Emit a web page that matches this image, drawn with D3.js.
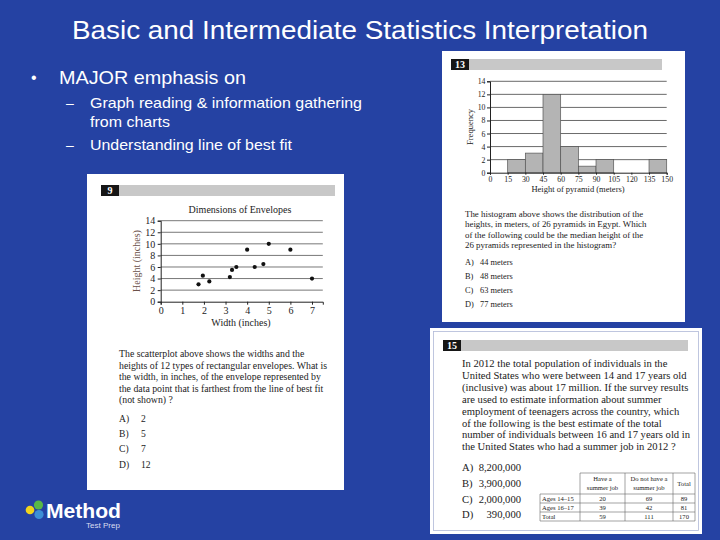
<!DOCTYPE html>
<html><head><meta charset="utf-8">
<script src="https://cdn.jsdelivr.net/npm/d3@7"></script>
<style>body{margin:0;background:#2542a3;} svg{display:block}</style>
</head><body><svg id="c" width="720" height="540"></svg>
<script>
// ---------- data ----------
const slideTitle = "Basic and Intermediate Statistics Interpretation";
const bulletMain = "MAJOR emphasis on";
const subBullets = [["Graph reading & information gathering", "from charts"], ["Understanding line of best fit"]];

// Q9 scatterplot
const scatterWidth  = [1.75, 1.95, 2.25, 3.2, 3.3, 3.5, 4, 4.35, 4.75, 5, 6, 7];
const scatterHeight = [3, 4.5, 3.5, 4.25, 5.5, 6, 9, 6, 6.5, 10, 9, 4];
const scatterXTicks = [0, 1, 2, 3, 4, 5, 6, 7];
const scatterYTicks = [0, 2, 4, 6, 8, 10, 12, 14];
const scatterTitle = "Dimensions of Envelopes";
const scatterXLabel = "Width (inches)";
const scatterYLabel = "Height (inches)";
const q9Text = ["The scatterplot above shows the widths and the",
  "heights of 12 types of rectangular envelopes. What is",
  "the width, in inches, of the envelope represented by",
  "the data point that is farthest from the line of best fit",
  "(not shown) ?"];
const q9Letters = ["A)", "B)", "C)", "D)"];
const q9Answers = ["2", "5", "7", "12"];

// Q13 histogram
const histBinStart = [15, 30, 45, 60, 75, 90, 105, 120, 135];
const histBinEnd   = [30, 45, 60, 75, 90, 105, 120, 135, 150];
const histFreq     = [2, 3, 12, 4, 1, 2, 0, 0, 2];
const histXTicks = [0, 15, 30, 45, 60, 75, 90, 105, 120, 135, 150];
const histYTicks = [0, 2, 4, 6, 8, 10, 12, 14];
const histXLabel = "Height of pyramid (meters)";
const histYLabel = "Frequency";
const q13Text = ["The histogram above shows the distribution of the",
  "heights, in meters, of 26 pyramids in Egypt. Which",
  "of the following could be the median height of the",
  "26 pyramids represented in the histogram?"];
const q13Letters = ["A)", "B)", "C)", "D)"];
const q13Answers = ["44 meters", "48 meters", "63 meters", "77 meters"];

// Q15 table
const q15Text = ["In 2012 the total population of individuals in the",
  "United States who were between 14 and 17 years old",
  "(inclusive) was about 17 million. If the survey results",
  "are used to estimate information about summer",
  "employment of teenagers across the country, which",
  "of the following is the best estimate of the total",
  "number of individuals between 16 and 17 years old in",
  "the United States who had a summer job in 2012 ?"];
const q15Letters = ["A)", "B)", "C)", "D)"];
const q15Answers = ["8,200,000", "3,900,000", "2,000,000", "390,000"];
const tableHeaders = [["Have a", "summer job"], ["Do not have a", "summer job"], ["Total"]];
const tableRowLabels = ["Ages 14–15", "Ages 16–17", "Total"];
const tableHave  = [20, 39, 59];
const tableNot   = [69, 42, 111];
const tableTotal = [89, 81, 170];

// ---------- drawing ----------
const svg = d3.select("#c");
const SERIF = "'Liberation Serif','DejaVu Serif',serif";
const SANS = "'Liberation Sans',Arial,sans-serif";

svg.append("rect").attr("width", 720).attr("height", 540).attr("fill", "#2542a3");

// title
svg.append("text").attr("x", 72).attr("y", 39).attr("fill", "#fff")
  .attr("font-family", SANS).attr("font-size", 26)
  .attr("textLength", 576).attr("lengthAdjust", "spacingAndGlyphs").text(slideTitle);

// bullets
svg.append("text").attr("x", 31).attr("y", 83).attr("fill", "#fff").attr("font-family", SANS).attr("font-size", 16).text("•");
svg.append("text").attr("x", 59).attr("y", 84).attr("fill", "#fff").attr("font-family", SANS).attr("font-size", 19)
  .attr("textLength", 187).attr("lengthAdjust", "spacingAndGlyphs").text(bulletMain);
const subY = [[108, 127], [150]];
const subLen = [[272, 80], [202]];
subBullets.forEach((lines, i) => {
  svg.append("text").attr("x", 66).attr("y", subY[i][0]).attr("fill", "#fff").attr("font-family", SANS).attr("font-size", 14).text("–");
  lines.forEach((t, j) => {
    svg.append("text").attr("x", 90).attr("y", subY[i][j]).attr("fill", "#fff").attr("font-family", SANS)
      .attr("font-size", 14.5).attr("textLength", subLen[i][j]).attr("lengthAdjust", "spacingAndGlyphs").text(t);
  });
});

function header(g, x, y, w, label) {
  g.append("rect").attr("x", x).attr("y", y).attr("width", w).attr("height", 11).attr("fill", "#c8c8c8");
  g.append("rect").attr("x", x).attr("y", y).attr("width", 18).attr("height", 11).attr("fill", "#161616");
  g.append("text").attr("x", x + 9).attr("y", y + 9).attr("text-anchor", "middle").attr("fill", "#fff")
    .attr("font-family", SERIF).attr("font-weight", "bold").attr("font-size", 10).text(label);
}

// ----- Panel 9 -----
const p9 = svg.append("g");
p9.append("rect").attr("x", 87).attr("y", 174).attr("width", 257).attr("height", 316).attr("fill", "#fff");
header(p9, 101, 185, 234, "9");
const sx = d3.scaleLinear().domain([0, 7.5]).range([160.7, 322.8]);
const sy = d3.scaleLinear().domain([0, 14]).range([301.7, 220.7]);
p9.append("g").selectAll("line").data(scatterYTicks.slice(1)).join("line")
  .attr("x1", sx(0)).attr("x2", sx(7.5)).attr("y1", d => sy(d)).attr("y2", d => sy(d))
  .attr("stroke", "#555").attr("stroke-width", 0.8);
const sxa = p9.append("g").attr("transform", `translate(0,${sy(0)})`)
  .call(d3.axisBottom(sx).tickValues(scatterXTicks).tickSize(3).tickPadding(2).tickFormat(d3.format("d")));
const sya = p9.append("g").attr("transform", `translate(${sx(0)},0)`)
  .call(d3.axisLeft(sy).tickValues(scatterYTicks).tickSize(3).tickPadding(2.5).tickFormat(d3.format("d")));
[sxa, sya].forEach(a => {
  a.selectAll("path").attr("stroke", "#222");
  a.selectAll("line").attr("stroke", "#222");
  a.selectAll("text").attr("font-family", SERIF).attr("font-size", 10).attr("fill", "#222");
});
p9.append("g").selectAll("circle").data(scatterWidth).join("circle")
  .attr("cx", d => sx(d)).attr("cy", (d, i) => sy(scatterHeight[i])).attr("r", 2.1).attr("fill", "#111");
p9.append("text").attr("x", 240).attr("y", 213).attr("text-anchor", "middle").attr("font-family", SERIF)
  .attr("font-size", 10).attr("fill", "#222").text(scatterTitle);
p9.append("text").attr("x", 241).attr("y", 326).attr("text-anchor", "middle").attr("font-family", SERIF)
  .attr("font-size", 10).attr("fill", "#222").text(scatterXLabel);
p9.append("text").attr("transform", "translate(140,261) rotate(-90)").attr("text-anchor", "middle")
  .attr("font-family", SERIF).attr("font-size", 10).attr("fill", "#6b5149").text(scatterYLabel);
q9Text.forEach((t, i) => p9.append("text").attr("x", 119).attr("y", 357 + i * 11.5).attr("font-family", SERIF)
  .attr("font-size", 9.8).attr("fill", "#222").text(t));
q9Letters.forEach((t, i) => {
  p9.append("text").attr("x", 119).attr("y", 422 + i * 15.2).attr("font-family", SERIF).attr("font-size", 9.6).attr("fill", "#222").text(t);
  p9.append("text").attr("x", 141).attr("y", 422 + i * 15.2).attr("font-family", SERIF).attr("font-size", 9.6).attr("fill", "#222").text(q9Answers[i]);
});

// ----- Panel 13 -----
const p13 = svg.append("g");
p13.append("rect").attr("x", 442).attr("y", 51).attr("width", 243).attr("height", 271).attr("fill", "#fff");
header(p13, 451, 59, 211, "13");
const hx = d3.scaleLinear().domain([0, 150]).range([490, 666.7]);
const hy = d3.scaleLinear().domain([0, 14]).range([172.7, 81.3]);
p13.append("g").selectAll("line").data(histYTicks.slice(1)).join("line")
  .attr("x1", hx(0)).attr("x2", hx(150)).attr("y1", d => hy(d)).attr("y2", d => hy(d))
  .attr("stroke", "#444").attr("stroke-width", 0.8);
p13.append("g").selectAll("rect").data(histFreq).join("rect")
  .attr("x", (d, i) => hx(histBinStart[i])).attr("width", (d, i) => hx(histBinEnd[i]) - hx(histBinStart[i]))
  .attr("y", d => hy(d)).attr("height", d => hy(0) - hy(d))
  .attr("fill", "#b4b4b4").attr("stroke", d => d > 0 ? "#555" : "none").attr("stroke-width", 0.7);
const hxa = p13.append("g").attr("transform", `translate(0,${hy(0)})`)
  .call(d3.axisBottom(hx).tickValues(histXTicks).tickSize(2).tickPadding(1.5).tickFormat(d3.format("d")));
const hya = p13.append("g").attr("transform", `translate(${hx(0)},0)`)
  .call(d3.axisLeft(hy).tickValues(histYTicks).tickSize(3).tickPadding(1.5).tickFormat(d3.format("d")));
[hxa, hya].forEach(a => {
  a.selectAll("path").attr("stroke", "#222");
  a.selectAll("line").attr("stroke", "#222");
  a.selectAll("text").attr("font-family", SERIF).attr("font-size", 7.8).attr("fill", "#222");
});
p13.append("text").attr("x", 578).attr("y", 192).attr("text-anchor", "middle").attr("font-family", SERIF)
  .attr("font-size", 8.5).attr("fill", "#222").text(histXLabel);
p13.append("text").attr("transform", "translate(473,127) rotate(-90)").attr("text-anchor", "middle")
  .attr("font-family", SERIF).attr("font-size", 8.5).attr("fill", "#222").text(histYLabel);
q13Text.forEach((t, i) => p13.append("text").attr("x", 465).attr("y", 217 + i * 10.3).attr("font-family", SERIF)
  .attr("font-size", 8.9).attr("fill", "#222").text(t));
q13Letters.forEach((t, i) => {
  p13.append("text").attr("x", 465).attr("y", 265 + i * 14).attr("font-family", SERIF).attr("font-size", 8.4).attr("fill", "#222").text(t);
  p13.append("text").attr("x", 480).attr("y", 265 + i * 14).attr("font-family", SERIF).attr("font-size", 8.4).attr("fill", "#222").text(q13Answers[i]);
});

// ----- Panel 15 -----
const p15 = svg.append("g");
p15.append("rect").attr("x", 430).attr("y", 328).attr("width", 272).attr("height", 206).attr("fill", "#fff");
p15.append("rect").attr("x", 433.5).attr("y", 331.5).attr("width", 265).attr("height", 199).attr("fill", "none")
  .attr("stroke", "#b0b8d8").attr("stroke-width", 0.8);
header(p15, 443, 340, 245, "15");
q15Text.forEach((t, i) => p15.append("text").attr("x", 462).attr("y", 367 + i * 11.9).attr("font-family", SERIF)
  .attr("font-size", 10.6).attr("fill", "#1a1a1a").text(t));
q15Letters.forEach((t, i) => {
  p15.append("text").attr("x", 462).attr("y", 471 + i * 15.8).attr("font-family", SERIF).attr("font-size", 10.6).attr("fill", "#1a1a1a").text(t);
  p15.append("text").attr("x", 521).attr("y", 471 + i * 15.8).attr("text-anchor", "end").attr("font-family", SERIF).attr("font-size", 10.6).attr("fill", "#1a1a1a").text(q15Answers[i]);
});
// table
const colX = [540, 580, 625, 673, 695];
const rowY = [473, 494, 503, 512, 521];
const tg = p15.append("g").attr("stroke", "#666").attr("stroke-width", 0.6);
tg.append("line").attr("x1", colX[1]).attr("x2", colX[4]).attr("y1", rowY[0]).attr("y2", rowY[0]);
[1, 2, 3].forEach(r => tg.append("line").attr("x1", colX[0]).attr("x2", colX[4]).attr("y1", rowY[r]).attr("y2", rowY[r]));
tg.append("line").attr("x1", colX[0]).attr("x2", colX[4]).attr("y1", rowY[4]).attr("y2", rowY[4]);
tg.append("line").attr("x1", colX[0]).attr("x2", colX[0]).attr("y1", rowY[1]).attr("y2", rowY[4]);
[1, 2, 3, 4].forEach(c => tg.append("line").attr("x1", colX[c]).attr("x2", colX[c]).attr("y1", rowY[0]).attr("y2", rowY[4]));
tableHeaders.forEach((lines, c) => {
  const cx = (colX[c + 1] + colX[c + 2]) / 2;
  const y0 = lines.length === 2 ? 481 : 486;
  lines.forEach((t, k) => p15.append("text").attr("x", cx).attr("y", y0 + k * 9).attr("text-anchor", "middle")
    .attr("font-family", SERIF).attr("font-size", 6.6).attr("fill", "#222").text(t));
});
const tableCols = [tableHave, tableNot, tableTotal];
tableRowLabels.forEach((lab, r) => {
  const y = rowY[r + 1] + 7;
  p15.append("text").attr("x", colX[0] + 2).attr("y", y).attr("font-family", SERIF).attr("font-size", 6.6).attr("fill", "#222").text(lab);
  tableCols.forEach((col, c) => p15.append("text").attr("x", (colX[c + 1] + colX[c + 2]) / 2).attr("y", y)
    .attr("text-anchor", "middle").attr("font-family", SERIF).attr("font-size", 6.6).attr("fill", "#222").text(col[r]));
});

// ----- logo -----
const lg = svg.append("g");
lg.append("circle").attr("cx", 30).attr("cy", 510).attr("r", 4.3).attr("fill", "#f2d41c");
lg.append("circle").attr("cx", 38.5).attr("cy", 505).attr("r", 4.6).attr("fill", "#58b947");
lg.append("circle").attr("cx", 39).attr("cy", 514.5).attr("r", 4.6).attr("fill", "#3d8fd6");
lg.append("text").attr("x", 46).attr("y", 518).attr("fill", "#fff").attr("font-family", SANS).attr("font-weight", "bold")
  .attr("font-size", 21).attr("textLength", 75).attr("lengthAdjust", "spacingAndGlyphs").text("Method");
lg.append("text").attr("x", 86).attr("y", 528).attr("fill", "#d8dcef").attr("font-family", SANS)
  .attr("font-size", 7.5).attr("textLength", 34).attr("lengthAdjust", "spacingAndGlyphs").text("Test Prep");
</script></body></html>
